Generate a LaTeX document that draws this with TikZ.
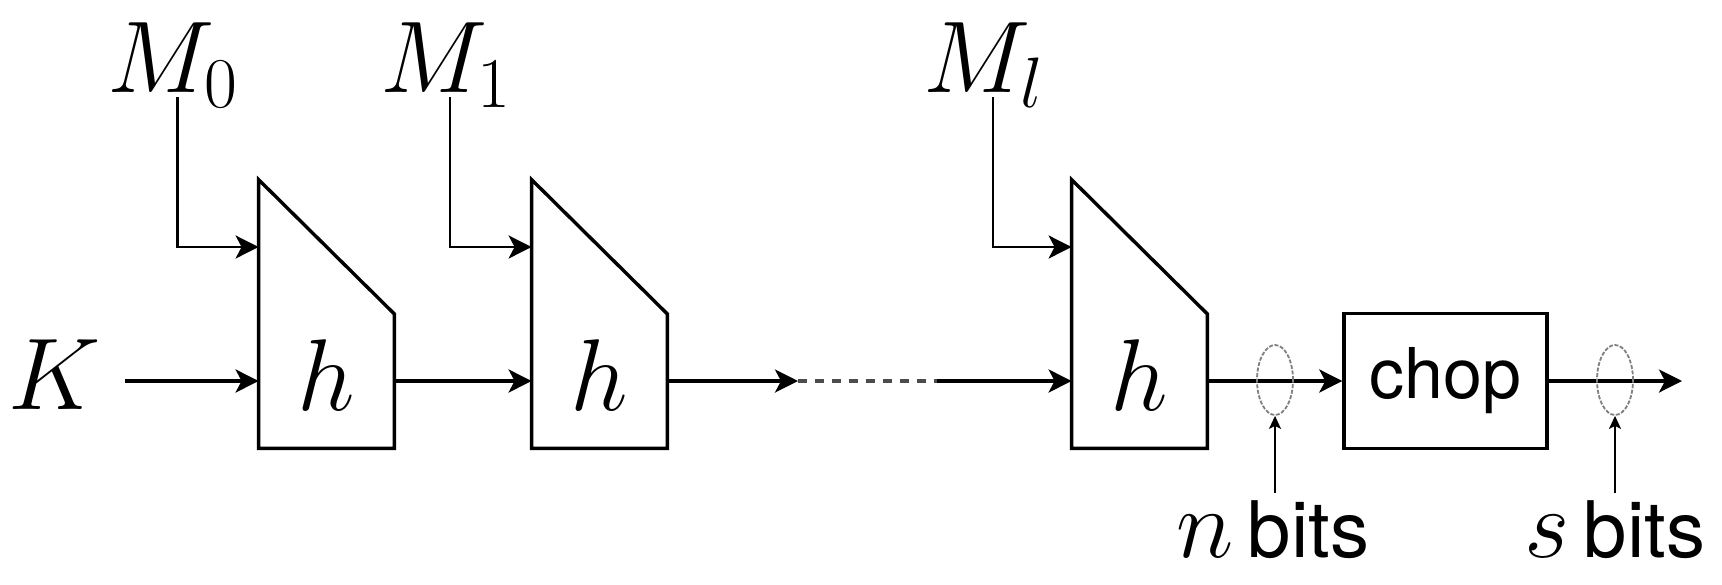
\RequirePackage{fix-cm}
\documentclass[tikz,border=0pt]{standalone}
\usepackage[no-math]{fontspec}
\newfontfamily\hv{TeX Gyre Heros}
\usetikzlibrary{arrows.meta,shapes.geometric}
\begin{document}
\begin{tikzpicture}[x=0.5pt,y=-0.5pt,
  arr/.style={line width=1.7pt,-{Stealth[length=11.5pt,width=11.5pt,inset=3pt]}},
  marr/.style={line width=1.4pt,-{Stealth[length=11.5pt,width=11.5pt,inset=3pt]}},
  barr/.style={line width=0.9pt,-{Stealth[length=6.5pt,width=6pt,inset=1.5pt]}},
  dashline/.style={line width=1.7pt,draw=black!70,dash pattern=on 4.5pt off 4pt},
  hblock/.style={minimum width=67.5pt,minimum height=134pt,inner sep=0pt},
  blockline/.style={line width=1.7pt,line join=miter},
  mathlbl/.style={inner sep=0pt,font=\fontsize{51}{61}\selectfont},
  bitring/.style={ellipse,draw=gray,line width=0.9pt,dash pattern=on 2pt off 0.8pt,minimum width=18pt,minimum height=35pt,inner sep=0pt},
  bitlbl/.style={inner sep=0pt,anchor=base},
  chopbox/.style={draw,line width=1.7pt,minimum width=101.5pt,minimum height=67.5pt,inner sep=0pt,font=\hv\fontsize{35}{42}\selectfont}
]
\useasboundingbox (0,0) rectangle (1722,584);

% blocks
\node[hblock] (b1) at (326.5,314) {};
\node[hblock] (b2) at (599.5,314) {};
\node[hblock] (b3) at (1139.5,314) {};
\foreach \b in {b1,b2,b3}{
  \draw[blockline] (\b.south west) -- (\b.north west) -- (\b.east) -- (\b.south east) -- cycle;
}
\node[mathlbl] (h1) at (326.5,375) {$h$};
\node[mathlbl] (h2) at (599.5,375) {$h$};
\node[mathlbl] (h3) at (1139.5,375) {$h$};

% key input
\node[mathlbl] (K) at (55,375) {$K$};
\coordinate (kin) at (125,381);

% message labels
\node[mathlbl,anchor=base west] (M0) at (107,92) {$M_0$};
\node[mathlbl,anchor=base west] (M1) at (380,92) {$M_1$};
\node[mathlbl,anchor=base west] (Ml) at (923,92) {$M_l$};
\coordinate (m0s) at (177.5,97);
\coordinate (m1s) at (450,97);
\coordinate (mls) at (993,97);

\draw[marr] (m0s) |- ([yshift=33.5pt]b1.west);
\draw[marr] (m1s) |- ([yshift=33.5pt]b2.west);
\draw[marr] (mls) |- ([yshift=33.5pt]b3.west);

% chop box
\node[chopbox] (chop) at (1445.5,381) {\raisebox{-2pt}{chop}};

% main chain
\coordinate (d1) at (798,381);
\coordinate (d2) at (937,381);
\coordinate (out) at (1682,381);
\draw[arr] (kin) -- (kin -| b1.west);
\draw[arr] (kin -| b1.east) -- (kin -| b2.west);
\draw[arr] (kin -| b2.east) -- (d1);
\draw[dashline] (d1) -- (d2);
\draw[arr] (d2) -- (kin -| b3.west);
\draw[arr] (kin -| b3.east) -- (chop.west);
\draw[arr] (chop.east) -- (out);

% bit-width rings
\node[bitring] (e1) at (1275,380) {};
\node[bitring] (e2) at (1615,380) {};

% bit labels
\node[bitlbl] (nb) at (1273,557) {\fontsize{49}{58}\selectfont$n$\hspace{7pt}{\hv\fontsize{39}{46}\selectfont bits}};
\node[bitlbl] (sb) at (1615,557) {\fontsize{49}{58}\selectfont$s$\hspace{7pt}{\hv\fontsize{39}{46}\selectfont bits}};
\coordinate (nbt) at ([yshift=3.5pt]nb.north);
\coordinate (sbt) at ([yshift=3.5pt]sb.north);
\draw[barr] (nbt -| e1.south) -- (e1.south);
\draw[barr] (sbt -| e2.south) -- (e2.south);
\end{tikzpicture}
\end{document}
